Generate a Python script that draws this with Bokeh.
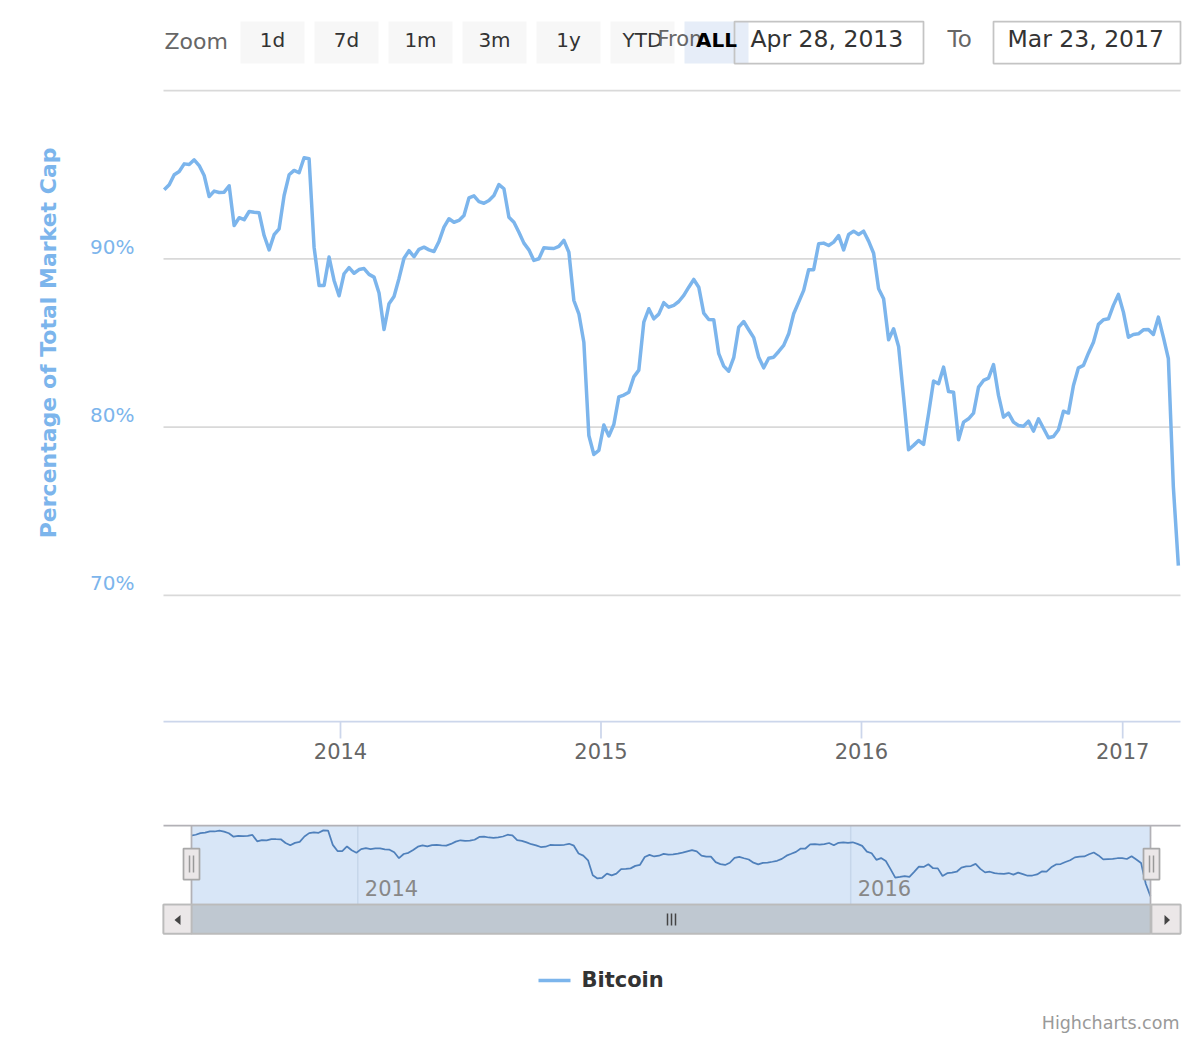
import pandas as pd
import numpy as np
from bokeh.plotting import figure
from bokeh.models import Range1d, ColumnDataSource
from bokeh.embed import file_html
from bokeh.resources import INLINE
from bokeh.core.properties import value

FONT = "DejaVu Sans"

# ---------------- data ----------------
series_name = "Bitcoin"
first_week = "2013-04-29"          # weekly points (Mondays)
dominance = [
    94.10, 94.40, 94.99, 95.19, 95.64, 95.60, 95.88, 95.54, 94.95, 93.70,
    94.02, 93.94, 93.96, 94.34, 91.98, 92.44, 92.32, 92.81, 92.76, 92.73,
    91.38, 90.53, 91.43, 91.78, 93.76, 94.99, 95.25, 95.11, 96.00, 95.94,
    90.69, 88.41, 88.41, 90.10, 88.71, 87.80, 89.11, 89.47, 89.14, 89.36,
    89.42, 89.07, 88.91, 87.96, 85.80, 87.33, 87.76, 88.83, 90.03, 90.48,
    90.12, 90.56, 90.69, 90.53, 90.43, 91.03, 91.88, 92.38, 92.17, 92.28,
    92.57, 93.62, 93.74, 93.40, 93.30, 93.46, 93.76, 94.41, 94.16, 92.47,
    92.17, 91.58, 90.93, 90.53, 89.90, 90.00, 90.65, 90.63, 90.61, 90.73,
    91.09, 90.39, 87.52, 86.73, 85.04, 79.50, 78.37, 78.61, 80.12, 79.47,
    80.15, 81.79, 81.90, 82.07, 82.98, 83.38, 86.23, 87.03, 86.43, 86.71,
    87.39, 87.12, 87.23, 87.46, 87.82, 88.31, 88.77, 88.31, 86.77, 86.39,
    86.38, 84.36, 83.62, 83.32, 84.12, 85.94, 86.27, 85.78, 85.31, 84.15,
    83.52, 84.09, 84.15, 84.49, 84.85, 85.54, 86.73, 87.42, 88.12, 89.35,
    89.35, 90.89, 90.93, 90.79, 90.99, 91.38, 90.53, 91.44, 91.64, 91.44,
    91.64, 91.05, 90.33, 88.22, 87.62, 85.19, 85.84, 84.79, 81.78, 78.65,
    78.91, 79.20, 78.97, 80.79, 82.73, 82.57, 83.56, 82.11, 82.07, 79.25,
    80.29, 80.49, 80.83, 82.37, 82.77, 82.91, 83.71, 81.88, 80.59, 80.83,
    80.29, 80.09, 80.05, 80.35, 79.76, 80.49, 79.93, 79.36, 79.44, 79.84,
    80.94, 80.83, 82.47, 83.52, 83.66, 84.39, 85.04, 86.10, 86.38, 86.43,
    87.23, 87.88, 86.83, 85.34, 85.50, 85.54, 85.78, 85.80, 85.50, 86.53,
    85.34, 84.06, 76.43, 71.77,
]
dates = pd.date_range(first_week, periods=len(dominance), freq="7D")

range_from = "2013-04-28"
range_to = "2017-03-23"
range_from_label = "Apr 28, 2013"
range_to_label = "Mar 23, 2017"
y_min, y_max = 62.5, 100
y_ticks = [70, 80, 90, 100]
y_labels = [70, 80, 90]
x_tick_years = [2014, 2015, 2016, 2017]
nav_tick_years = [2014, 2016]
nav_min, nav_max = 68.8, 97.8
zoom_buttons = ["1d", "7d", "1m", "3m", "1y", "YTD", "ALL"]
y_title = "Percentage of Total Market Cap"
y_title_center = 85
credits = "Highcharts.com"


def ms(s):
    return pd.Timestamp(s).value / 1e6


t_from, t_to = ms(range_from), ms(range_to)
t_first, t_last = dates[0].value / 1e6, dates[-1].value / 1e6
x_ticks_ms = [ms(f"{y}-01-01") for y in x_tick_years]
nav_ticks_ms = [ms(f"{y}-01-01") for y in nav_tick_years]
src = ColumnDataSource(dict(date=dates, value=dominance))

# ---------------- layout (pixels) ----------------
W, H = 1200, 1040
PL, PR, PT, PB = 163, 1180, 90, 721          # main plot area
NL, NR, NT, NB = 191, 1150, 825, 904         # navigator mask area
LINE_COLOR = "#7cb5ec"


def lin_range(va, pa, vb, pb, p_start, p_end):
    per = (vb - va) / (pb - pa)
    return Range1d(va + (p_start - pa) * per, va + (p_end - pa) * per)


def base(y, size):
    # baseline correction for the svg text renderer
    return y - 0.39 * size


p = figure(width=W, height=H, x_range=Range1d(0, W), y_range=Range1d(H, 0),
           x_axis_location=None, y_axis_location=None,
           output_backend="svg", toolbar_location=None, min_border=0)
p.outline_line_color = None
p.grid.visible = False
p.extra_x_ranges = {"mx": lin_range(t_from, PL, t_to, PR, 0, W),
                    "nx": lin_range(t_first, NL - 0.5, t_last, NR, 0, W)}
p.extra_y_ranges = {"my": lin_range(y_max, PT, y_min, PB, H, 0),
                    "ny": lin_range(nav_max, NT, nav_min, NB, H, 0)}

# ---------------- range selector ----------------
bx_left = [240 + 74 * i for i in range(len(zoom_buttons))]
bx_right = [x + 64 for x in bx_left]
fills = ["#f7f7f7"] * (len(zoom_buttons) - 1) + ["#e6edf8"]
p.quad(left=bx_left, right=bx_right, top=21, bottom=63, fill_color=fills, line_color=None)
p.quad(left=[734, 993], right=[923, 1180], top=21, bottom=63, fill_color=None,
       line_color="#c4c4c4", line_width=1.75)
p.text(x=[164], y=[base(50, 22)], text=["Zoom"], text_font=value(FONT), text_font_size="22px",
       text_color="#666666", text_align="left", text_baseline="alphabetic")
p.text(x=[(l + r) / 2 for l, r in zip(bx_left[:-1], bx_right[:-1])], y=[base(47, 20)] * 6,
       text=zoom_buttons[:-1], text_font=value(FONT), text_font_size="20px",
       text_color="#333333", text_align="center", text_baseline="alphabetic")
p.text(x=[657], y=[base(47, 21)], text=["From"], text_font=value(FONT), text_font_size="21px",
       text_color="#666666", text_align="left", text_baseline="alphabetic")
p.text(x=[(bx_left[-1] + bx_right[-1]) / 2], y=[base(47, 20)], text=zoom_buttons[-1:],
       text_font=value(FONT), text_font_size="20px", text_font_style="bold",
       text_color="#000000", text_align="center", text_baseline="alphabetic")
p.text(x=[947], y=[base(47.3, 23)], text=["To"], text_font=value(FONT), text_font_size="23px",
       text_color="#666666", text_align="left", text_baseline="alphabetic")
p.text(x=[750, 1007], y=[base(47.3, 23.5)] * 2, text=[range_from_label, range_to_label],
       text_font=value(FONT), text_font_size="23.5px", text_color="#333333",
       text_align="left", text_baseline="alphabetic")

# ---------------- main chart ----------------
p.segment(x0=t_from, x1=t_to, y0=y_ticks, y1=y_ticks, x_range_name="mx", y_range_name="my",
          line_color="#d9d9d9", line_width=1.75)
p.segment(x0=[t_from], x1=[t_to], y0=[y_min], y1=[y_min], x_range_name="mx", y_range_name="my",
          line_color="#ccd6eb", line_width=1.75)
p.segment(x0=x_ticks_ms, x1=x_ticks_ms, y0=PB, y1=PB + 17, x_range_name="mx",
          line_color="#ccd6eb", line_width=1.75)
p.text(x=x_ticks_ms, y=[base(758.3, 21)] * len(x_ticks_ms), text=[str(y) for y in x_tick_years],
       x_range_name="mx", text_font=value(FONT), text_font_size="21px",
       text_color="#666666", text_align="center", text_baseline="alphabetic")
p.text(x=[134] * len(y_labels), y=y_labels, text=[f"{v}%" for v in y_labels],
       y_range_name="my", y_offset=-4.3 - 0.39 * 20, text_font=value(FONT),
       text_font_size="20px", text_color=LINE_COLOR, text_align="right",
       text_baseline="alphabetic")
p.text(x=[base(56.5, 22)], y=[y_title_center], text=[y_title], y_range_name="my",
       angle=np.pi / 2, text_font=value(FONT), text_font_size="22px",
       text_font_style="bold", text_color=LINE_COLOR, text_align="center",
       text_baseline="alphabetic")
p.line(x="date", y="value", source=src, x_range_name="mx", y_range_name="my",
       line_color=LINE_COLOR, line_width=3.5, line_join="round")

# ---------------- navigator + scrollbar ----------------
p.quad(left=NL, right=NR, top=NT, bottom=NB, fill_color="#d8e6f7", line_color=None)
p.segment(x0=nav_ticks_ms, x1=nav_ticks_ms, y0=NT, y1=NB, x_range_name="nx",
          line_color="#c6d6ea", line_width=1.5)
p.line(x="date", y="value", source=src, x_range_name="nx", y_range_name="ny",
       line_color="#4f80bb", line_width=1.75)
p.text(x=nav_ticks_ms, y=[base(896, 21)] * len(nav_ticks_ms),
       text=[str(y) for y in nav_tick_years], x_range_name="nx", x_offset=7,
       text_font=value(FONT), text_font_size="21px", text_color="#888888",
       text_align="left", text_baseline="alphabetic")
p.multi_line(xs=[[PL, PR], [NL, NL], [NR, NR]], ys=[[NT, NT], [NT, NB], [NT, NB]],
             line_color="#b2b1b6", line_width=1.75)
p.quad(left=PL, right=PR, top=904, bottom=933, fill_color="#eeeeee",
       line_color="#bbbbbb", line_width=1.75)
p.quad(left=NL, right=NR, top=904, bottom=933, fill_color="#bfc8d1",
       line_color="#bbbbbb", line_width=1.75)
p.quad(left=[PL, NR + 1], right=[NL, PR], top=904, bottom=933, fill_color="#ebe7e8",
       line_color="#bbbbbb", line_width=1.75)
p.patches(xs=[[174, 180, 180], [1169.5, 1164, 1164]],
          ys=[[919.5, 914.5, 924.5], [919.5, 914.5, 924.5]],
          fill_color="#444444", line_color=None)
p.segment(x0=[667, 671, 675], x1=[667, 671, 675], y0=913, y1=925,
          line_color="#444444", line_width=1.5)
p.quad(left=[183, 1143], right=[199, 1159], top=848, bottom=879, fill_color="#ebe7e8",
       line_color="#a8a8a8", line_width=1.75)
p.segment(x0=[189, 193, 1149, 1153], x1=[189, 193, 1149, 1153], y0=855, y1=872,
          line_color="#999999", line_width=1.5)

# ---------------- legend + credits ----------------
p.segment(x0=[538], x1=[570], y0=[980], y1=[980], line_color=LINE_COLOR, line_width=3.5)
p.text(x=[581], y=[base(988, 21)], text=[series_name], text_font=value(FONT),
       text_font_size="21px", text_font_style="bold", text_color="#333333",
       text_align="left", text_baseline="alphabetic")
p.text(x=[1179], y=[base(1029, 17.5)], text=[credits], text_font=value(FONT),
       text_font_size="17.5px", text_color="#999999", text_align="right",
       text_baseline="alphabetic")

open("out.html", "w").write(file_html(p, INLINE))
